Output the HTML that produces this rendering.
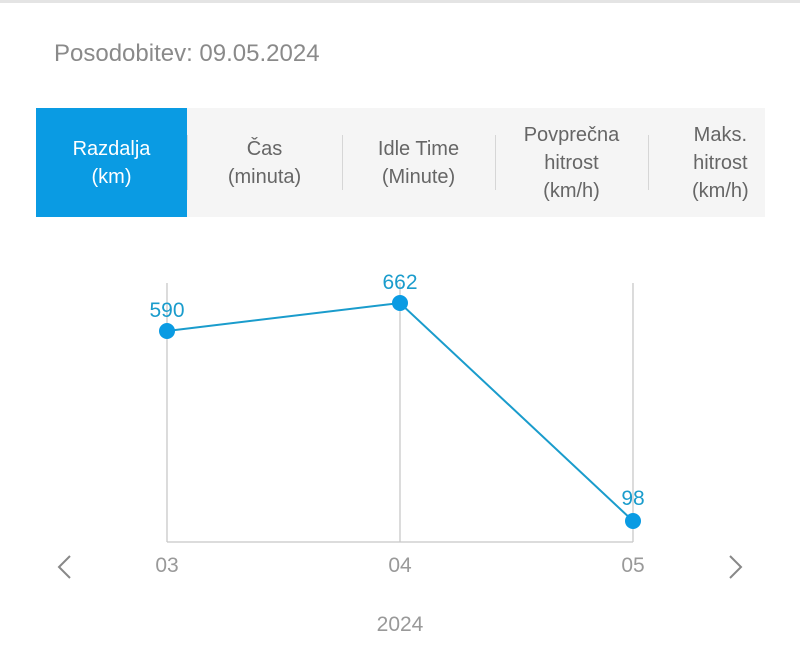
<!DOCTYPE html>
<html><head><meta charset="utf-8"><style>
body{margin:0;width:800px;height:649px;background:#fff;font-family:"Liberation Sans",sans-serif;position:relative;overflow:hidden}
.top{position:absolute;left:0;top:0;width:800px;height:3px;background:#e4e4e4}
.upd{position:absolute;left:54px;top:40px;font-size:24px;color:#8a8a8a}
.tabs{position:absolute;left:36px;top:108px;width:729px;height:109px;background:#f5f5f5}
.tab{position:absolute;top:0;height:109px;display:flex;align-items:center;justify-content:center;text-align:center;font-size:20px;line-height:28px;color:#666}
.sep{position:absolute;top:27px;width:1px;height:55px;background:#d6d6d6}
</style></head><body>
<div class="top"></div>
<div class="upd">Posodobitev: 09.05.2024</div>
<div class="tabs">
<div class="tab" style="left:0;width:151px;background:#0a9be3;color:#fff">Razdalja<br>(km)</div>
<div class="tab" style="left:151px;width:155px">Čas<br>(minuta)</div>
<div class="tab" style="left:306px;width:153px">Idle Time<br>(Minute)</div>
<div class="tab" style="left:459px;width:153px">Povprečna<br>hitrost<br>(km/h)</div>
<div class="tab" style="left:612px;justify-content:flex-start;padding-left:44px;box-sizing:border-box;width:117px">Maks.<br>hitrost<br>(km/h)</div>
<div class="sep" style="left:151px"></div>
<div class="sep" style="left:306px"></div>
<div class="sep" style="left:459px"></div>
<div class="sep" style="left:612px"></div>
</div>
<svg width="800" height="649" style="position:absolute;left:0;top:0">
<g stroke="#c8c8c8" stroke-width="1.3" fill="none">
<line x1="167" y1="283" x2="167" y2="542"/>
<line x1="400" y1="283" x2="400" y2="542"/>
<line x1="633" y1="283" x2="633" y2="542"/>
<line x1="167" y1="542" x2="633" y2="542"/>
</g>
<polyline points="167,331 400,303 633,521" fill="none" stroke="#1a9ccc" stroke-width="2"/>
<g fill="#0a9be3"><circle cx="167" cy="331" r="8"/><circle cx="400" cy="303" r="8"/><circle cx="633" cy="521" r="8"/></g>
<g fill="#1a9ccc" font-size="21" text-anchor="middle" font-family="Liberation Sans">
<text x="167" y="317">590</text><text x="400" y="289">662</text><text x="633" y="505">98</text></g>
<g fill="#999" font-size="21" text-anchor="middle" font-family="Liberation Sans">
<text x="167" y="572">03</text><text x="400" y="572">04</text><text x="633" y="572">05</text>
<text x="400" y="631">2024</text></g>
<g stroke="#888" stroke-width="2" fill="none">
<polyline points="70,556 59,567 70,578"/>
<polyline points="730,556 741,567 730,578"/>
</g>
</svg>
</body></html>
